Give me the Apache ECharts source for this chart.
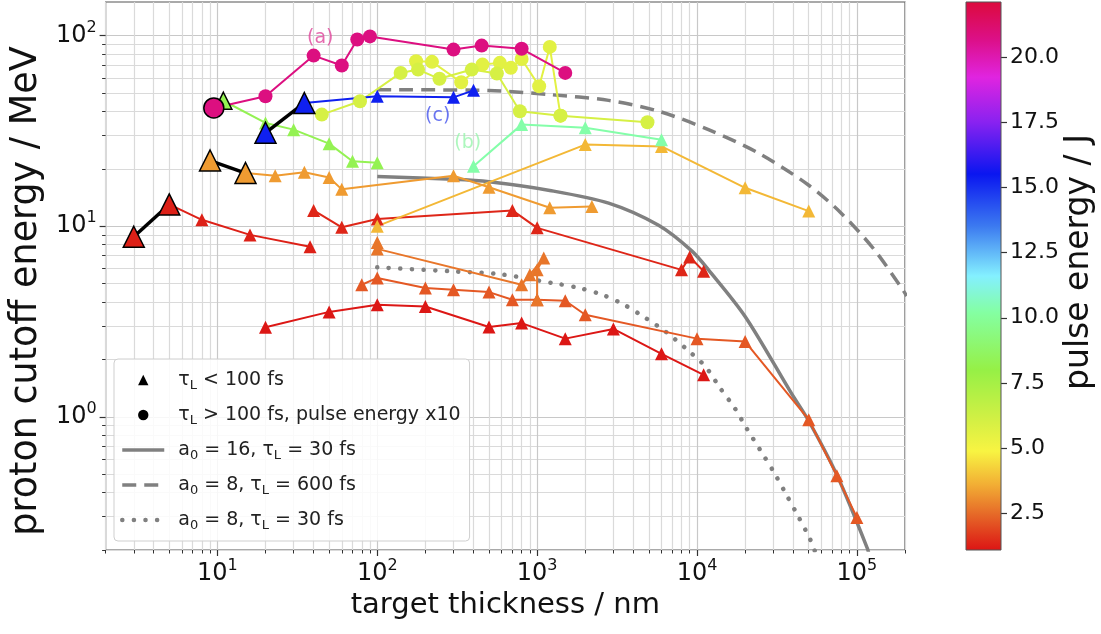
<!DOCTYPE html>
<html>
<head>
<meta charset="utf-8">
<script src="https://cdn.jsdelivr.net/npm/echarts@6.0.0/dist/echarts.min.js"></script>
<style>
html,body{margin:0;padding:0;background:#ffffff;}
#chart{width:1101px;height:634px;}
</style>
</head>
<body>
<div id="chart"></div>
<script>
// ---------------- axis ranges & ticks ----------------
const xRange = [2, 200000];
const yRange = [0.2, 150];
const cbRange = [1.1, 22.1];
const xMajorTicks = [10, 100, 1000, 10000, 100000];
const xMinorTicks = [2,3,4,5,6,7,8,9,20,30,40,50,60,70,80,90,200,300,400,500,600,700,800,900,
  2000,3000,4000,5000,6000,7000,8000,9000,20000,30000,40000,50000,60000,70000,80000,90000,200000];
const yMajorTicks = [1, 10, 100];
const yMinorTicks = [0.2,0.3,0.4,0.5,0.6,0.7,0.8,0.9,2,3,4,5,6,7,8,9,20,30,40,50,60,70,80,90];
const cbTicks = [2.5, 5, 7.5, 10, 12.5, 15, 17.5, 20];

// ---------------- measured series [thickness nm, cutoff MeV] ----------------
const magentaA = [[9.5,41.7],[20,48],[40,78.5],[60,69.6],[75,95.3],[90,99],[300,84.4],[450,88.6],[800,85.2],[1500,63.7]];
const yellowA = [[45,38.5],[78,45.2],[140,63.7],[180,66.3],[245,59.3],[390,66.3],[560,63.2],[780,40.1],[1400,38.0],[4900,35.1]];
const yellowB = [[175,73.3],[220,72.8],[335,56.9],[455,70.4],[585,71.9],[685,67.7],[800,75.4],[1030,54.2],[1200,87.2],[1400,38.0]];
const greenTri = [[10.9,45.5],[20,34.8],[30,32.1],[50,27.1],[70,21.9],[100,21.5]];
const blueTriC = [[35,44.3],[100,48],[300,47.4],[400,51.6]];
const mintTriB = [[400,20.6],[800,34.1],[2000,32.8],[6000,28.4]];
const amberTri = [[100,10.0],[2000,26.8],[6000,26.2],[20000,15.9],[50000,12.0]];
const orangeTri1 = [[15,19.0],[23,18.4],[35,19.2],[50,18.0],[60,15.6],[300,18.4],[500,16.0],[1200,12.5],[2200,12.7]];
const orangeTri2 = [[100,8.2],[100,7.6],[800,4.93],[900,5.56],[1100,6.81],[1000,5.9],[1000,4.11]];
const orangeTri3 = [[80,4.93],[100,5.35],[200,4.74],[300,4.64],[500,4.51],[700,4.11],[1000,4.11],[1500,4.06],[2000,3.43],[10000,2.57],[20000,2.48],[50000,0.965],[75000,0.49],[100000,0.296]];
const redTri1 = [[5,13],[8,10.8],[16,9.0],[38,7.8]];
const redTri2 = [[40,12.1],[60,9.86],[100,10.9],[700,12.1],[1000,9.8],[8000,5.9],[9000,6.9],[11000,5.8]];
const redTri3 = [[20,2.95],[50,3.55],[100,3.87],[200,3.79],[500,2.96],[800,3.1],[1500,2.57],[3000,2.89],[6000,2.14],[11000,1.66]];

// pulse energies (J) of the series above
const energyNames = ['magentaA','yellowA','yellowB','greenTri','blueTriC','mintTriB','amberTri','orangeTri1','orangeTri2','orangeTri3','redTri1','redTri2','redTri3'];
const energyValues = [20.8, 6.0, 5.6, 8.3, 15.3, 10.3, 3.8, 3.3, 2.7, 2.2, 1.3, 1.4, 1.15];

// highlighted (black-edged) shots
const pairRed = [[3,8.8],[5,13]];
const pairOrange = [[9,22.1],[15,19.0]];
const pairBlue = [[20,30.9],[35,44.3]];
const bigGreen = [[10.9,45.5]];
const bigMagenta = [[9.5,41.7]];

// ---------------- model curves ----------------
const curveA16 = [[100,18.2],[300,17.6],[500,17.1],[1200,15.4],[2800,13.2],[5750,10.1],[9300,7.4],[11800,5.9],[20000,3.36],[38900,1.33],[50000,0.95],[75400,0.49],[116000,0.205],[121000,0.18]];
const curveA8Long = [[100,52],[500,51.5],[1200,49],[2800,45.7],[5750,40.1],[11800,32.1],[24200,24.2],[49500,16.5],[79800,11.7],[129000,7.5],[193500,4.64],[205000,4.3]];
const curveA8Short = [[100,6.08],[300,5.79],[580,5.6],[1250,5.03],[1830,4.74],[2550,4.37],[3500,3.87],[4760,3.30],[6350,2.80],[8470,2.29],[11250,1.84],[13950,1.415],[17230,1.11],[20400,0.872],[24800,0.671],[30100,0.516],[35800,0.397],[43000,0.30],[50600,0.231],[54300,0.2],[57000,0.18]];

// ---------------- annotations & legend texts ----------------
const annotTexts = ['(a)', '(b)', '(c)'];
const annotPos = [[44, 97.3], [368, 27.3], [239, 37.7]];
const legendLabels = ['τL < 100 fs', 'τL > 100 fs, pulse energy x10', 'a0 = 16, τL = 30 fs', 'a0 = 8, τL = 600 fs', 'a0 = 8, τL = 30 fs'];

// ---------------- styling helpers ----------------
const FONT = 'DejaVu Sans';
const cmapStops = [[1.1,'#dc1414'],[2.5,'#e66a28'],[3.6,'#f2ad34'],[4.9,'#f8f442'],[6.0,'#d6f044'],[8.0,'#96f046'],
  [10.2,'#84ffa2'],[11.6,'#84f0ff'],[13.5,'#3c7af0'],[15.5,'#0a16f0'],[17.5,'#8a22f0'],[19.2,'#e024e0'],[20.6,'#dc108a'],[22.1,'#dc0a3c']];
function hex2rgb(h){return [parseInt(h.slice(1,3),16),parseInt(h.slice(3,5),16),parseInt(h.slice(5,7),16)];}
function cmap(v){
  if (v <= cmapStops[0][0]) return cmapStops[0][1];
  for (let i = 1; i < cmapStops.length; i++) {
    if (v <= cmapStops[i][0]) {
      const v0 = cmapStops[i-1][0], v1 = cmapStops[i][0];
      const a = hex2rgb(cmapStops[i-1][1]), b = hex2rgb(cmapStops[i][1]);
      const t = (v - v0) / (v1 - v0);
      return 'rgb(' + a.map((x,k)=>Math.round(x + (b[k]-x)*t)).join(',') + ')';
    }
  }
  return cmapStops[cmapStops.length-1][1];
}
function energyOf(name){ return energyValues[energyNames.indexOf(name)]; }

const powFmt = v => '{b|10}{p|' + Math.round(Math.log10(v)) + '}';
const powRich = {
  b: {fontSize: 24, lineHeight: 32, fontFamily: FONT, color: '#111'},
  p: {fontSize: 16, lineHeight: 18, verticalAlign: 'top', fontFamily: FONT, color: '#111'}
};

function dataLine(d, name, sym){
  const c = cmap(energyOf(name));
  return {type:'line', data:d, xAxisIndex:0, yAxisIndex:0, symbol:sym,
    symbolSize: sym === 'circle' ? 14 : 13, showSymbol:true,
    lineStyle:{color:c, width:2}, itemStyle:{color:c}, z:3, silent:true};
}
function pairLine(d, name, sym, size){
  const c = cmap(energyOf(name));
  return {type:'line', data:d, xAxisIndex:0, yAxisIndex:0, symbol:sym, symbolSize:size, showSymbol:true,
    lineStyle:{color:'#000', width:3.5}, itemStyle:{color:c, borderColor:'#000', borderWidth:1.5}, z:4, silent:true};
}
const solidStyle = {color:'#808080', width:3.5};
const dashStyle = {color:'#808080', width:3.5, type:[14,8]};
const dotStyle = {color:'#808080', width:4.5, type:[0.1,11.5], cap:'round'};
function curve(d, name, lineStyle){
  return {name:name, type:'line', data:d, xAxisIndex:0, yAxisIndex:0, symbol:'none',
    smooth:0.3, lineStyle:lineStyle, itemStyle:{color:'#808080'}, z:2, silent:true};
}

const cbGradient = new echarts.graphic.LinearGradient(0, 0, 0, 1,
  cmapStops.map(s => ({offset:(cbRange[1]-s[0])/(cbRange[1]-cbRange[0]), color:s[1]})));

const annotColors = ['#e0449a', '#98f5ac', '#4452ee'];

const series = [
  curve(curveA16, legendLabels[2], solidStyle),
  curve(curveA8Long, legendLabels[3], dashStyle),
  curve(curveA8Short, legendLabels[4], dotStyle),
  dataLine(redTri3, 'redTri3', 'triangle'),
  dataLine(orangeTri3, 'orangeTri3', 'triangle'),
  dataLine(orangeTri2, 'orangeTri2', 'triangle'),
  dataLine(redTri2, 'redTri2', 'triangle'),
  dataLine(redTri1, 'redTri1', 'triangle'),
  dataLine(amberTri, 'amberTri', 'triangle'),
  dataLine(orangeTri1, 'orangeTri1', 'triangle'),
  dataLine(mintTriB, 'mintTriB', 'triangle'),
  dataLine(greenTri, 'greenTri', 'triangle'),
  dataLine(yellowB, 'yellowB', 'circle'),
  dataLine(yellowA, 'yellowA', 'circle'),
  dataLine(blueTriC, 'blueTriC', 'triangle'),
  dataLine(magentaA, 'magentaA', 'circle'),
  pairLine(pairRed, 'redTri1', 'triangle', 21),
  pairLine(pairOrange, 'orangeTri1', 'triangle', 21),
  pairLine(pairBlue, 'blueTriC', 'triangle', 21),
  pairLine(bigGreen, 'greenTri', 'triangle', 17),
  pairLine(bigMagenta, 'magentaA', 'circle', 20),
  {name:legendLabels[0], type:'line', data:[], symbol:'triangle', itemStyle:{color:'#000'}, lineStyle:{color:'rgba(0,0,0,0)', width:0}},
  {name:legendLabels[1], type:'line', data:[], symbol:'circle', itemStyle:{color:'#000'}, lineStyle:{color:'rgba(0,0,0,0)', width:0}},
  {type:'custom', xAxisIndex:2, yAxisIndex:2, data:[[0, cbRange[1]]], silent:true,
    renderItem:(params, api) => {
      const top = api.coord([0, cbRange[1]]);
      const bot = api.coord([0, cbRange[0]]);
      const w = api.size([1, 0])[0];
      return {type:'rect', shape:{x:top[0]-w/2, y:top[1], width:w, height:bot[1]-top[1]},
        style:{fill:cbGradient, stroke:'#555', lineWidth:1}};
    }}
];
annotTexts.forEach((t, i) => {
  series.push({type:'scatter', data:[annotPos[i]], xAxisIndex:0, yAxisIndex:0, symbolSize:1,
    itemStyle:{color:'rgba(0,0,0,0)'}, z:6, silent:true,
    label:{show:true, position:'inside', formatter:t, color:annotColors[i], fontSize:19, fontFamily:FONT}});
});

const hiddenMarker = {color:'rgba(0,0,0,0)', borderWidth:0, borderColor:'rgba(0,0,0,0)'};
const curveLegendStyles = [solidStyle, dashStyle, dotStyle];
const legendData = legendLabels.map((n, i) => i < 2
  ? {name:n, lineStyle:{color:'rgba(0,0,0,0)', width:0}}
  : {name:n, itemStyle:hiddenMarker, lineStyle:curveLegendStyles[i-2]});

const axisCommon = {type:'log', logBase:10, gridIndex:0, axisLine:{show:false, onZero:false}};
const option = {
  animation:false,
  backgroundColor:'#ffffff',
  textStyle:{fontFamily:FONT},
  grid:[
    {left:104, top:2, width:801, height:548, show:true, borderColor:'#555', borderWidth:1.2, containLabel:false},
    {left:966, top:2, width:35, height:548, show:false, containLabel:false}
  ],
  xAxis:[
    Object.assign({}, axisCommon, {min:xRange[0], max:xRange[1], position:'bottom',
      axisTick:{show:true, inside:false, length:6, customValues:xMajorTicks, lineStyle:{color:'#333', width:1.2}},
      axisLabel:{customValues:xMajorTicks, formatter:powFmt, rich:powRich, margin:8},
      splitLine:{show:true, lineStyle:{color:'#c8c8c8', width:1.2}},
      name:'target thickness / nm', nameLocation:'middle', nameGap:40,
      nameTextStyle:{fontSize:29, color:'#111', fontFamily:FONT}}),
    Object.assign({}, axisCommon, {min:xRange[0], max:xRange[1], position:'bottom',
      axisTick:{show:true, inside:false, length:3.5, customValues:xMinorTicks, lineStyle:{color:'#333', width:1}},
      axisLabel:{show:false},
      splitLine:{show:true, lineStyle:{color:'#dadada', width:1.2}}}),
    {type:'category', gridIndex:1, data:['cb'], show:false}
  ],
  yAxis:[
    Object.assign({}, axisCommon, {min:yRange[0], max:yRange[1], position:'left',
      axisTick:{show:true, inside:false, length:6, customValues:yMajorTicks, lineStyle:{color:'#333', width:1.2}},
      axisLabel:{customValues:yMajorTicks, formatter:powFmt, rich:powRich, margin:9},
      splitLine:{show:true, lineStyle:{color:'#c8c8c8', width:1.2}},
      name:'proton cutoff energy / MeV', nameLocation:'middle', nameGap:58, nameRotate:90,
      nameTextStyle:{fontSize:36.5, color:'#111', fontFamily:FONT, padding:[0, 30, 0, 0]}}),
    Object.assign({}, axisCommon, {min:yRange[0], max:yRange[1], position:'left',
      axisTick:{show:true, inside:false, length:3.5, customValues:yMinorTicks, lineStyle:{color:'#333', width:1}},
      axisLabel:{show:false},
      splitLine:{show:true, lineStyle:{color:'#dadada', width:1.2}}}),
    {type:'value', gridIndex:1, position:'right', min:cbRange[0], max:cbRange[1],
      axisLine:{show:false}, splitLine:{show:false},
      axisTick:{show:true, length:6, customValues:cbTicks, lineStyle:{color:'#333', width:1.2}},
      axisLabel:{customValues:cbTicks, formatter:v => v.toFixed(1), fontSize:22, color:'#111', margin:9, fontFamily:FONT},
      name:'pulse energy / J', nameLocation:'middle', nameGap:62, nameRotate:90,
      nameTextStyle:{fontSize:33, color:'#111', fontFamily:FONT, padding:[0, 0, 0, 28]}}
  ],
  legend:{
    show:true, orient:'vertical', left:114, top:359, data:legendData, selectedMode:false,
    itemWidth:42, itemHeight:13, itemGap:11, padding:[9, 9, 9, 6],
    backgroundColor:'rgba(255,255,255,0.85)', borderColor:'#cfcfcf', borderWidth:1, borderRadius:4,
    formatter: n => n.replace(/τL/g, 'τ{s|L}').replace(/a0/g, 'a{s|0}'),
    textStyle:{fontSize:19, color:'#222', fontFamily:FONT, lineHeight:24, padding:[0,0,0,9],
      rich:{s:{fontSize:13, verticalAlign:'bottom', fontFamily:FONT, color:'#222'}}}
  },
  series:series
};
const chart = echarts.init(document.getElementById('chart'), null, {renderer:'canvas'});
chart.setOption(option);
</script>
</body>
</html>
